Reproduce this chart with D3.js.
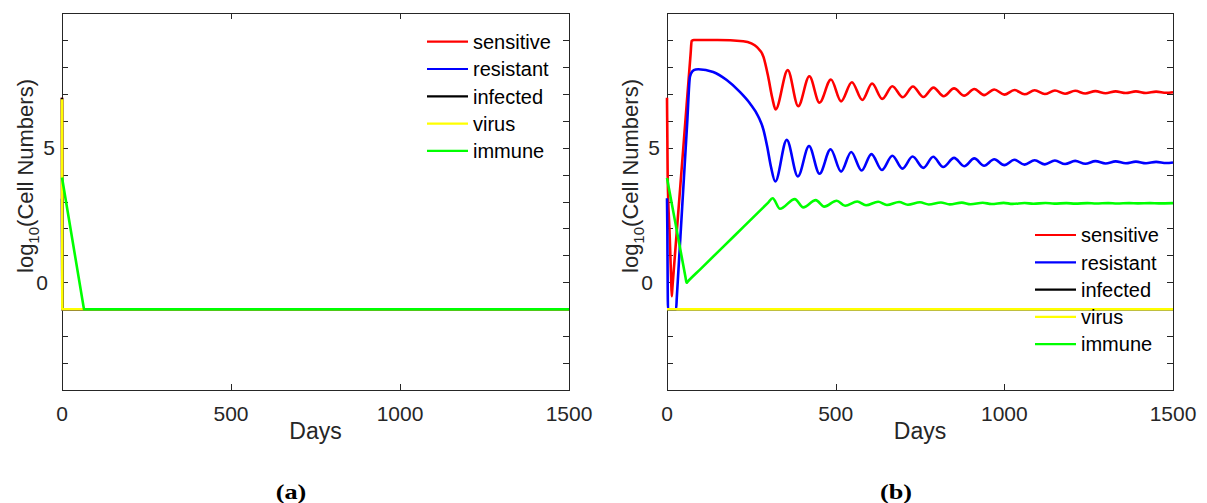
<!DOCTYPE html>
<html>
<head>
<meta charset="utf-8">
<script src="https://cdn.jsdelivr.net/npm/d3@7"></script>
<style>
  html, body { margin: 0; padding: 0; background: #fff; }
  svg { display: block; }
</style>
</head>
<body>
<svg id="chart" width="1207" height="503"></svg>
<script>
// ---------- DATA ----------
const seriesNames = ["sensitive", "resistant", "infected", "virus", "immune"];
const seriesColors = ["#ff0000", "#0000ff", "#000000", "#ffff00", "#00ff00"];
const xTicks = [0, 500, 1000, 1500];
const yTickLabels = [0, 5];
const panelLabels = ["(a)", "(b)"];

// Panel (a): [day, log10 value]
const aSensitive = [[0, 6.85], [1, -1], [1500, -1]];
const aResistant = [[0, 3.1], [1, -1], [1500, -1]];
const aInfected  = [[0, 6.85], [1, -1], [1500, -1]];
const aVirus     = [[0, 6.8], [1, -1], [1500, -1]];
const aImmune    = [[0, 3.89], [65, -1], [1500, -1]];

// Panel (b)
const bSensitive = [[0, 6.85], [1, 5.4], [2, 3.95], [8, 1.72], [12, 0.23], [14, -0.52], [16, -0.2], [30, 2.05],
  [50, 5.26], [70, 8.48], [73, 8.96], [80, 9.0], [150, 9.0], [226, 8.95], [250, 8.87], [266, 8.74], [286, 8.37],
  [300, 7.63], [312, 6.85], [322, 6.42], [358, 7.88], [389, 6.54], [422, 7.65],
  [452, 6.67], [486, 7.53], [516, 6.72], [548, 7.43], [579, 6.77], [608, 7.38], [638, 6.81], [668, 7.28],
  [699, 6.87], [729, 7.27], [760, 6.88], [790, 7.23], [820, 6.91], [851, 7.2], [881, 6.93], [911, 7.18],
  [940, 6.95], [970, 7.16], [1000, 6.97], [1030, 7.14], [1060, 6.98], [1090, 7.13], [1120, 6.99], [1150, 7.12],
  [1180, 7.0], [1210, 7.11], [1240, 7.01], [1270, 7.1], [1300, 7.02], [1330, 7.09], [1360, 7.03], [1390, 7.09],
  [1420, 7.03], [1450, 7.08], [1480, 7.04], [1500, 7.06]];
const bResistant = [[0, 3.12], [1, 2.0], [2, 0.0], [3, -1], [27, -1], [29, -0.58], [45, 2.79], [60, 5.95],
  [68, 7.63], [75, 7.83], [85, 7.9], [93, 7.91], [137, 7.81], [177, 7.51], [216, 7.07], [246, 6.64], [271, 6.15],
  [286, 5.66], [297, 5.04], [308, 4.3], [321, 3.74], [355, 5.29],
  [388, 3.93], [421, 5.06], [452, 4.03], [485, 4.94], [516, 4.11], [546, 4.84], [577, 4.15], [606, 4.76],
  [637, 4.17], [668, 4.7], [698, 4.22], [728, 4.67], [760, 4.25], [789, 4.66], [819, 4.28], [851, 4.62],
  [881, 4.31], [911, 4.6], [940, 4.33], [970, 4.57], [1000, 4.35], [1030, 4.55], [1060, 4.37], [1090, 4.53],
  [1120, 4.38], [1150, 4.52], [1180, 4.39], [1210, 4.51], [1240, 4.4], [1270, 4.5], [1300, 4.41], [1330, 4.49],
  [1360, 4.42], [1390, 4.48], [1420, 4.42], [1450, 4.47], [1480, 4.43], [1500, 4.45]];
const bInfected = [[0, -1], [1500, -1]];
const bVirus    = [[0, -1], [1500, -1]];
const bImmune   = [[0, 3.87], [3, 3.67], [30, 1.86], [55, 0.18], [58, -0.02], [61, 0.02], [100, 0.5], [200, 1.73],
  [300, 2.96], [313, 3.12], [335, 2.73],
  [379, 3.09], [404, 2.78], [441, 3.05], [466, 2.81], [503, 3.03], [528, 2.84], [564, 3.0], [590, 2.86],
  [626, 2.99], [652, 2.87], [688, 2.98], [714, 2.88], [750, 2.97], [776, 2.89], [812, 2.965], [838, 2.895],
  [874, 2.96], [900, 2.9], [936, 2.955], [962, 2.905], [998, 2.95], [1024, 2.91], [1060, 2.945], [1086, 2.915],
  [1122, 2.945], [1148, 2.92], [1184, 2.94], [1210, 2.92], [1246, 2.94], [1272, 2.925], [1308, 2.94],
  [1334, 2.925], [1370, 2.94], [1396, 2.93], [1432, 2.94], [1458, 2.93], [1500, 2.94]];

// ---------- LAYOUT ----------
const svg = d3.select("#chart");
const axisColor = "#262626";
const fontSans = "'Liberation Sans', Arial, Helvetica, sans-serif";

const panels = [
  { x0: 62, x1: 569, data: [aSensitive, aResistant, aInfected, aVirus, aImmune], curve: d3.curveLinear,
    legend: { x: 427, y: 41.7 }, label: panelLabels[0], labelX: 291 },
  { x0: 667, x1: 1173, data: [bSensitive, bResistant, bInfected, bVirus, bImmune], curve: d3.curveMonotoneX,
    legend: { x: 1035, y: 235 }, label: panelLabels[1], labelX: 896 }
];
const yTop = 13, yBot = 390;

panels.forEach((p, pi) => {
  const x = d3.scaleLinear().domain([0, 1500]).range([p.x0, p.x1]);
  const y = d3.scaleLinear().domain([-4, 10]).range([yBot, yTop]);
  const g = svg.append("g");

  const clipId = "clip" + pi;
  svg.append("clipPath").attr("id", clipId).append("rect")
    .attr("x", p.x0 - 3).attr("y", yTop - 3).attr("width", p.x1 - p.x0 + 6).attr("height", yBot - yTop + 6);

  // Axes (box with inward ticks)
  const yTicks = d3.range(-4, 11, 1);
  const axL = d3.axisLeft(y).tickValues(yTicks).tickSizeInner(-6).tickSizeOuter(0).tickFormat("");
  const axR = d3.axisRight(y).tickValues(yTicks).tickSizeInner(-6).tickSizeOuter(0).tickFormat("");
  const axB = d3.axisBottom(x).tickValues(xTicks).tickSizeInner(-6).tickSizeOuter(0).tickFormat("");
  const axT = d3.axisTop(x).tickValues(xTicks).tickSizeInner(-6).tickSizeOuter(0).tickFormat("");
  [[axL, `translate(${p.x0},0)`], [axR, `translate(${p.x1},0)`], [axB, `translate(0,${yBot})`], [axT, `translate(0,${yTop})`]]
    .forEach(([ax, tr]) => {
      const a = g.append("g").attr("transform", tr).call(ax);
      a.selectAll("path,line").attr("stroke", axisColor).attr("stroke-width", 1).attr("shape-rendering", "crispEdges");
    });

  // Lines (drawn over the axes)
  const line = d3.line().x(d => x(d[0])).y(d => y(d[1])).curve(p.curve);
  const lg = g.append("g").attr("clip-path", `url(#${clipId})`);
  p.data.forEach((s, i) => {
    lg.append("path").attr("d", line(s)).attr("fill", "none")
      .attr("stroke", seriesColors[i]).attr("stroke-width", 2.6)
      .attr("stroke-linejoin", "round");
  });

  // X tick labels
  g.selectAll(".xtl").data(xTicks).enter().append("text")
    .attr("x", d => x(d)).attr("y", 421)
    .attr("text-anchor", "middle").attr("font-family", fontSans).attr("font-size", 21)
    .attr("fill", axisColor).text(d => d);

  // Y tick labels
  g.selectAll(".ytl").data(yTickLabels).enter().append("text")
    .attr("x", d => p.x0 - (d === 0 ? 14 : 7)).attr("y", d => y(d)).attr("dy", "0.36em")
    .attr("text-anchor", "end").attr("font-family", fontSans).attr("font-size", 21)
    .attr("fill", axisColor).text(d => d);

  // X axis title
  g.append("text").attr("x", (p.x0 + p.x1) / 2).attr("y", 439)
    .attr("text-anchor", "middle").attr("font-family", fontSans).attr("font-size", 23)
    .attr("fill", axisColor).text("Days");

  // Y axis title
  const yl = g.append("text")
    .attr("transform", `translate(${p.x0 - 29},176) rotate(-90)`)
    .attr("text-anchor", "middle").attr("font-family", fontSans).attr("font-size", 22)
    .attr("fill", axisColor);
  yl.append("tspan").text("log");
  yl.append("tspan").attr("font-size", 15).attr("dy", 6).text("10");
  yl.append("tspan").attr("dy", -6).text("(Cell Numbers)");

  // Legend
  seriesNames.forEach((n, i) => {
    const ly = p.legend.y + i * 27.3;
    g.append("line").attr("x1", p.legend.x).attr("x2", p.legend.x + 41)
      .attr("y1", ly).attr("y2", ly).attr("stroke", seriesColors[i]).attr("stroke-width", 2.2);
    g.append("text").attr("x", p.legend.x + 46).attr("y", ly).attr("dy", "0.36em")
      .attr("font-family", fontSans).attr("font-size", 20).attr("fill", "#000").text(n);
  });

  // Panel label
  svg.append("text").attr("transform", `translate(${p.labelX},499) scale(1.25,1)`)
    .attr("text-anchor", "middle")
    .attr("font-family", "'Liberation Serif', 'Times New Roman', serif").attr("font-weight", "bold")
    .attr("font-size", 21).attr("fill", "#000").text(p.label);
});
</script>
</body>
</html>
